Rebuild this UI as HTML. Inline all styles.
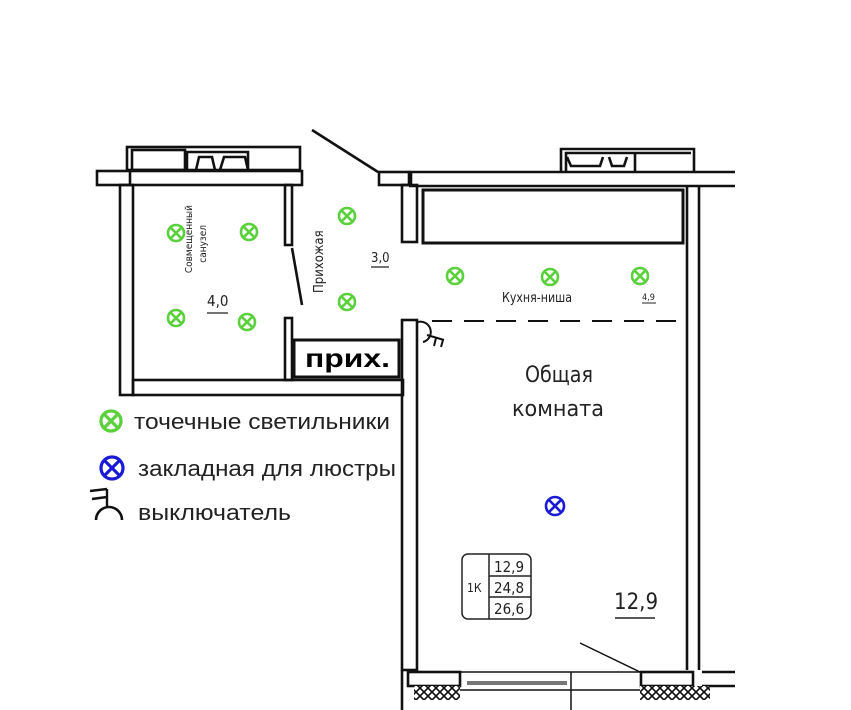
<!DOCTYPE html>
<html><head><meta charset="utf-8">
<style>
html,body{margin:0;padding:0;background:#fff;width:851px;height:710px;overflow:hidden}
svg{display:block}
.t{font-family:"Liberation Sans","DejaVu Sans",sans-serif}
.n{font-family:"DejaVu Sans Condensed","Liberation Sans Narrow","Liberation Sans",sans-serif}
</style></head><body>
<svg width="851" height="710" viewBox="0 0 851 710" xmlns="http://www.w3.org/2000/svg">
<defs>
<g id="g"><circle r="8" fill="none" stroke="#5ad13c" stroke-width="2.6"/><path d="M-5.7,-5.7L5.7,5.7M5.7,-5.7L-5.7,5.7" stroke="#5ad13c" stroke-width="2.6"/></g>
<pattern id="hatch" width="8" height="8" patternUnits="userSpaceOnUse"><rect width="8" height="8" fill="#fff"/><path d="M0,4L4,0L8,4L4,8Z" fill="none" stroke="#111" stroke-width="1.6"/></pattern>
</defs>
<g fill="none" stroke="#111" stroke-width="2.6">
<rect x="127" y="147" width="173" height="23"/>
<rect x="132" y="150" width="53" height="20"/>
<path d="M187,170V152H248V170M196,170L199,157H212L215,170M220,170L224,157H245L248,170"/>
<rect x="97" y="171" width="205" height="14"/>
<line x1="130" y1="171" x2="130" y2="185"/>
<rect x="120" y="185" width="13" height="210"/>
<rect x="133" y="380" width="270" height="15"/>
<rect x="285" y="185" width="7" height="60"/>
<rect x="285" y="318" width="7" height="62"/>
<line x1="292" y1="248" x2="302" y2="305"/>
<line x1="312" y1="130" x2="378" y2="172"/>
<rect x="379" y="172" width="30" height="13"/>
<line x1="409" y1="172" x2="735" y2="172"/>
<line x1="409" y1="186" x2="735" y2="186"/>
<line x1="411" y1="172" x2="411" y2="186"/>
<rect x="402" y="185" width="15" height="57"/>
<path d="M561,171V149H694V171M566,171V153H691"/>
<path d="M567,157L571,166H600L603,157M609,157L612,166H624L627,157M635,153V171"/>
<rect x="423" y="190" width="260" height="53" stroke-width="3"/>
<line x1="687" y1="186" x2="687" y2="670"/>
<line x1="699" y1="186" x2="699" y2="670"/>
<rect x="402" y="320" width="15" height="350"/>
<line x1="402" y1="670" x2="402" y2="710"/>
<line x1="432" y1="321" x2="686" y2="321" stroke-dasharray="20,12" stroke-width="2"/>
<path d="M418,322A10,10 0 0 1 423,342" stroke-width="2"/>
<path d="M427,335L444,340M436,338L434,346M443,340L441,347" stroke-width="2"/>
<rect x="408" y="672" width="52" height="14"/>
<line x1="460" y1="672" x2="640" y2="672" stroke-width="1.5"/>
<line x1="460" y1="690" x2="640" y2="690" stroke-width="1.5"/>
<line x1="571" y1="672" x2="571" y2="710" stroke-width="1.5"/>
<rect x="641" y="672" width="52" height="14"/>
<line x1="580" y1="643" x2="640" y2="672" stroke-width="1.5"/>
<line x1="702" y1="672" x2="735" y2="672"/>
<line x1="702" y1="686" x2="735" y2="686"/>
</g>
<rect x="414" y="686" width="46" height="14" fill="url(#hatch)"/>
<rect x="640" y="686" width="70" height="14" fill="url(#hatch)"/>
<rect x="467" y="681" width="100" height="4" fill="#777"/>
<use href="#g" x="176" y="233"/><use href="#g" x="249" y="232"/>
<use href="#g" x="176" y="318"/><use href="#g" x="247" y="322"/>
<use href="#g" x="347" y="216"/><use href="#g" x="347" y="302"/>
<use href="#g" x="455" y="276"/><use href="#g" x="550" y="277"/><use href="#g" x="640" y="276"/>
<circle cx="555" cy="506" r="9" fill="none" stroke="#1a1ad6" stroke-width="2.6"/>
<path d="M548.6,499.6L561.4,512.4M561.4,499.6L548.6,512.4" stroke="#1a1ad6" stroke-width="2.6"/>
<text class="n" font-size="10" transform="translate(192,205) rotate(-90)" text-anchor="end" fill="#222">Совмещенный</text>
<text class="n" font-size="10" transform="translate(206,225) rotate(-90)" text-anchor="end" fill="#222">санузел</text>
<text class="n" font-size="13" transform="translate(323,293) rotate(-90)" fill="#222">Прихожая</text>
<text class="n" font-size="15" x="207" y="306" fill="#222">4,0</text>
<line x1="207" y1="313" x2="228" y2="313" stroke="#222" stroke-width="1.3"/>
<text class="n" font-size="13" x="371" y="262" fill="#222">3,0</text>
<line x1="371" y1="267" x2="389" y2="267" stroke="#222" stroke-width="1.2"/>
<text class="n" font-size="13" x="502" y="302" fill="#222" textLength="70" lengthAdjust="spacingAndGlyphs">Кухня-ниша</text>
<text class="n" font-size="9" x="642" y="300" fill="#222">4,9</text>
<line x1="642" y1="303" x2="656" y2="303" stroke="#222" stroke-width="1"/>
<text class="n" font-size="22" x="525" y="382" fill="#222" textLength="68" lengthAdjust="spacingAndGlyphs">Общая</text>
<text class="n" font-size="22" x="512" y="416" fill="#222" textLength="92" lengthAdjust="spacingAndGlyphs">комната</text>
<rect x="462" y="554" width="69" height="65" rx="6" fill="none" stroke="#222" stroke-width="1.5"/>
<path d="M489,554V619M489,576H531M489,597H531" stroke="#222" stroke-width="1.5"/>
<text class="n" font-size="12" x="467" y="592" fill="#222">1К</text>
<text class="n" font-size="15" x="494" y="572" fill="#222">12,9</text>
<text class="n" font-size="15" x="494" y="593" fill="#222">24,8</text>
<text class="n" font-size="15" x="494" y="614" fill="#222">26,6</text>
<text class="n" font-size="22" x="614" y="609" fill="#222">12,9</text>
<line x1="615" y1="618" x2="655" y2="618" stroke="#222" stroke-width="1.5"/>
<rect x="294" y="340" width="105" height="37" fill="#fff" stroke="#111" stroke-width="3"/>
<text class="t" font-size="26" font-weight="bold" x="305" y="367" fill="#000" textLength="85" lengthAdjust="spacingAndGlyphs">прих.</text>
<g transform="translate(111,421) scale(1.25)"><use href="#g"/></g>
<text class="t" font-size="22" x="134" y="429" fill="#222" textLength="256" lengthAdjust="spacingAndGlyphs">точечные светильники</text>
<circle cx="112" cy="468" r="11" fill="none" stroke="#1a1ad6" stroke-width="3.2"/>
<path d="M104.2,460.2L119.8,475.8M119.8,460.2L104.2,475.8" stroke="#1a1ad6" stroke-width="3.2"/>
<text class="t" font-size="22" x="138" y="476" fill="#222" textLength="258" lengthAdjust="spacingAndGlyphs">закладная для люстры</text>
<path d="M96,520A12,12 0 0 1 122,520" fill="none" stroke="#111" stroke-width="2.6"/>
<path d="M90,491L107,489M92,499L107,497M107,489L107,508" fill="none" stroke="#111" stroke-width="2.4"/>
<text class="t" font-size="22" x="138" y="520" fill="#222" textLength="153" lengthAdjust="spacingAndGlyphs">выключатель</text>
</svg>
</body></html>
